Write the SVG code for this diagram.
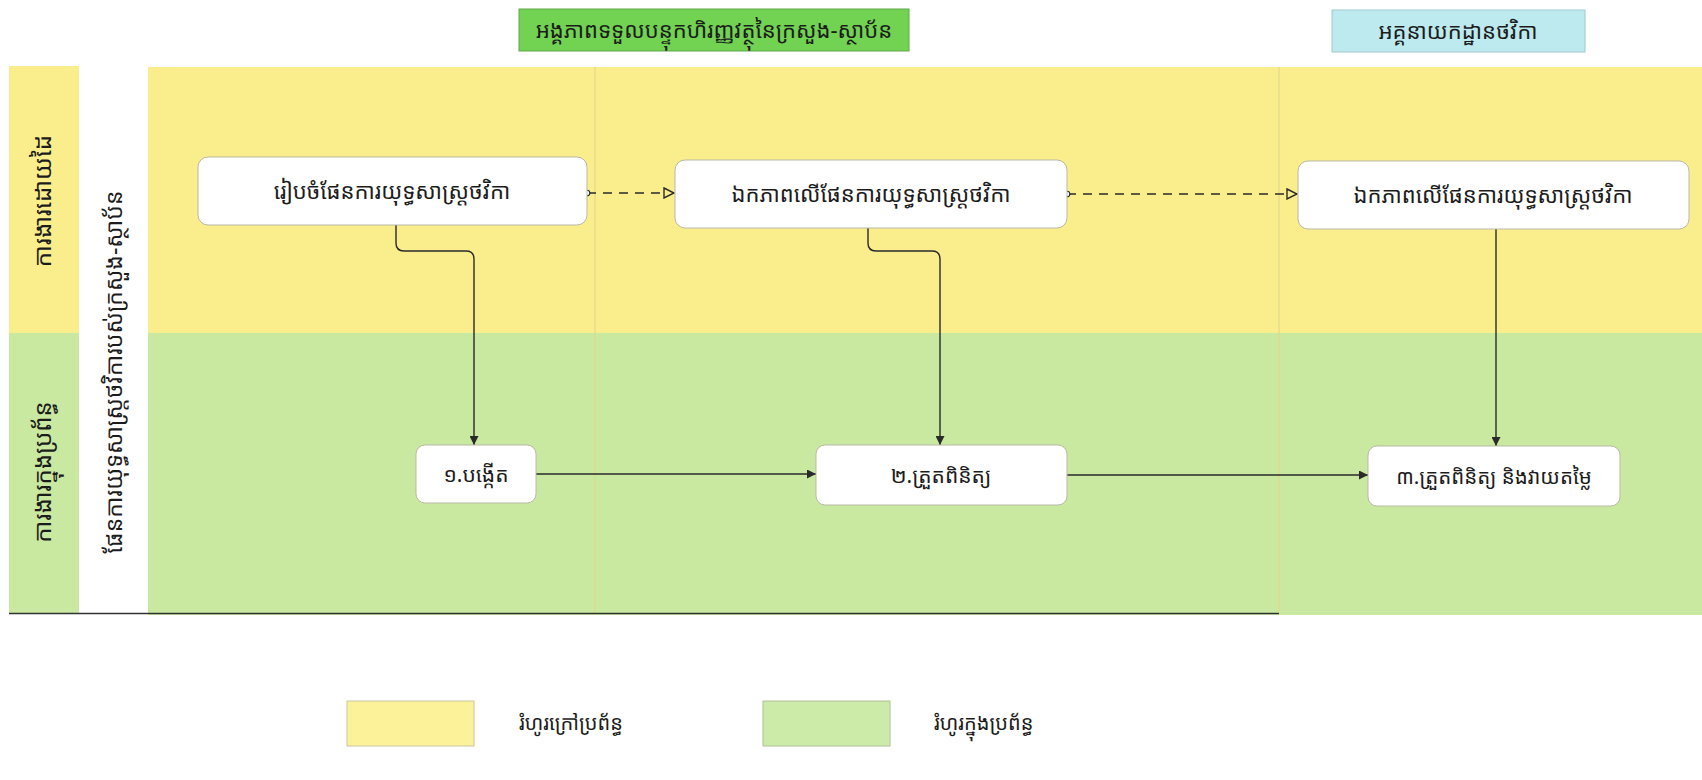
<svg xmlns="http://www.w3.org/2000/svg" width="1702" height="780" viewBox="0 0 1702 780">
  <style>
    .km { font-family: "Noto Sans Khmer", "Khmer OS", "Noto Sans", "DejaVu Sans", sans-serif; fill: #1c1c1c; }
    .node { fill: #ffffff; stroke: #b9b9a8; stroke-width: 1; }
    .flow { fill: none; stroke: #2a2a2a; stroke-width: 1.4; }
    .dash { fill: none; stroke: #2a2a2a; stroke-width: 1.4; stroke-dasharray: 9 7; }
    .yel { fill: #faee8c; }
    .grn { fill: #c9e8a0; }
  </style>
  <defs>
    <marker id="solid" viewBox="0 0 10 10" refX="10" refY="5" markerWidth="9" markerHeight="9" markerUnits="userSpaceOnUse" orient="auto">
      <path d="M0,0 L10,5 L0,10 z" fill="#2a2a2a"/>
    </marker>
    <marker id="open" viewBox="0 0 12 12" refX="11" refY="6" markerWidth="12" markerHeight="12" markerUnits="userSpaceOnUse" orient="auto">
      <path d="M1,1 L11,6 L1,11 z" fill="#faee8c" stroke="#2a2a2a" stroke-width="1.4"/>
    </marker>
    <marker id="dot" viewBox="0 0 10 10" refX="5" refY="5" markerWidth="8" markerHeight="8" markerUnits="userSpaceOnUse">
      <circle cx="5" cy="5" r="3.5" fill="#ffffff" stroke="#2a2a2a" stroke-width="1.4"/>
    </marker>
  </defs>

  <rect width="1702" height="780" fill="#ffffff"/>

  <!-- column headers -->
  <g id="hdr-ministry">
    <rect x="519" y="9" width="390" height="42" fill="#72d252" stroke="#62a84a" stroke-width="1"/>
    <text class="km" x="714" y="38" font-size="22" text-anchor="middle">អង្គភាពទទួលបន្ទុកហិរញ្ញវត្ថុនៃក្រសួង-ស្ថាប័ន</text>
  </g>
  <g id="hdr-budget">
    <rect x="1332" y="10" width="253" height="42" fill="#bdeaee" stroke="#9fc9cc" stroke-width="1"/>
    <text class="km" x="1458" y="39" font-size="22" text-anchor="middle">អគ្គនាយកដ្ឋានថវិកា</text>
  </g>

  <!-- swimlane backgrounds -->
  <g id="lanes">
    <rect class="yel" x="148" y="67" width="1554" height="266"/>
    <rect class="grn" x="148" y="333" width="1554" height="282"/>
    <rect class="yel" x="9" y="66" width="70" height="267"/>
    <rect class="grn" x="9" y="333" width="70" height="280"/>
    <line x1="595" y1="67" x2="595" y2="613" stroke="#e2d88c" stroke-width="1.2"/>
    <line x1="1279" y1="67" x2="1279" y2="613" stroke="#e2d88c" stroke-width="1.2"/>
    <line x1="9" y1="613.5" x2="1279" y2="613.5" stroke="#333" stroke-width="1.5"/>
  </g>

  <!-- lane titles -->
  <g id="lane-manual">
    <text class="km" transform="translate(51,201) rotate(-90)" font-size="24" text-anchor="middle">ការងារដោយដៃ</text>
  </g>
  <g id="lane-system">
    <text class="km" transform="translate(51,472) rotate(-90)" font-size="24" text-anchor="middle">ការងារក្នុងប្រព័ន្ធ</text>
  </g>
  <g id="pool-title">
    <text class="km" transform="translate(122,372) rotate(-90)" font-size="23" text-anchor="middle">ផែនការយុទ្ធសាស្ត្រថវិការបស់ក្រសួង-ស្ថាប័ន</text>
  </g>

  <!-- connectors -->
  <g id="connectors">
    <path class="dash" d="M587,193 L674,193" marker-start="url(#dot)" marker-end="url(#open)"/>
    <path class="dash" d="M1067,194 L1297,194" marker-start="url(#dot)" marker-end="url(#open)"/>
    <path class="flow" d="M396,225 L396,243 Q396,251 404,251 L466,251 Q474,251 474,259 L474,445" marker-end="url(#solid)"/>
    <path class="flow" d="M868,228 L868,243 Q868,251 876,251 L932,251 Q940,251 940,259 L940,445" marker-end="url(#solid)"/>
    <path class="flow" d="M1496,229 L1496,446" marker-end="url(#solid)"/>
    <path class="flow" d="M536,474 L816,474" marker-end="url(#solid)"/>
    <path class="flow" d="M1067,475 L1368,475" marker-end="url(#solid)"/>
  </g>

  <!-- process nodes -->
  <g id="prepare-plan">
    <rect class="node" x="198" y="157" width="389" height="68" rx="10"/>
    <text class="km" x="392" y="199" font-size="22" text-anchor="middle">រៀបចំផែនការយុទ្ធសាស្ត្រថវិកា</text>
  </g>
  <g id="approve-ministry">
    <rect class="node" x="675" y="160" width="392" height="68" rx="10"/>
    <text class="km" x="871" y="202" font-size="22" text-anchor="middle">ឯកភាពលើផែនការយុទ្ធសាស្ត្រថវិកា</text>
  </g>
  <g id="approve-budget">
    <rect class="node" x="1298" y="161" width="391" height="68" rx="10"/>
    <text class="km" x="1493" y="203" font-size="22" text-anchor="middle">ឯកភាពលើផែនការយុទ្ធសាស្ត្រថវិកា</text>
  </g>
  <g id="create">
    <rect class="node" x="416" y="445" width="120" height="58" rx="9"/>
    <text class="km" x="476" y="482" font-size="21" text-anchor="middle">១.បង្កើត</text>
  </g>
  <g id="review">
    <rect class="node" x="816" y="445" width="251" height="60" rx="9"/>
    <text class="km" x="941" y="483" font-size="21" text-anchor="middle">២.ត្រួតពិនិត្យ</text>
  </g>
  <g id="review-evaluate">
    <rect class="node" x="1368" y="446" width="252" height="60" rx="9"/>
    <text class="km" x="1494" y="484" font-size="20.5" text-anchor="middle">៣.ត្រួតពិនិត្យ និងវាយតម្លៃ</text>
  </g>

  <!-- legend -->
  <g id="legend">
    <rect x="347" y="701" width="127" height="45" fill="#fcf29a" stroke="#c9c6a0" stroke-width="1"/>
    <text class="km" x="519" y="730" font-size="20">រំហូរក្រៅប្រព័ន្ធ</text>
    <rect x="763" y="701" width="127" height="45" fill="#cdeba8" stroke="#b0c09a" stroke-width="1"/>
    <text class="km" x="934" y="730" font-size="20">រំហូរក្នុងប្រព័ន្ធ</text>
  </g>
</svg>
